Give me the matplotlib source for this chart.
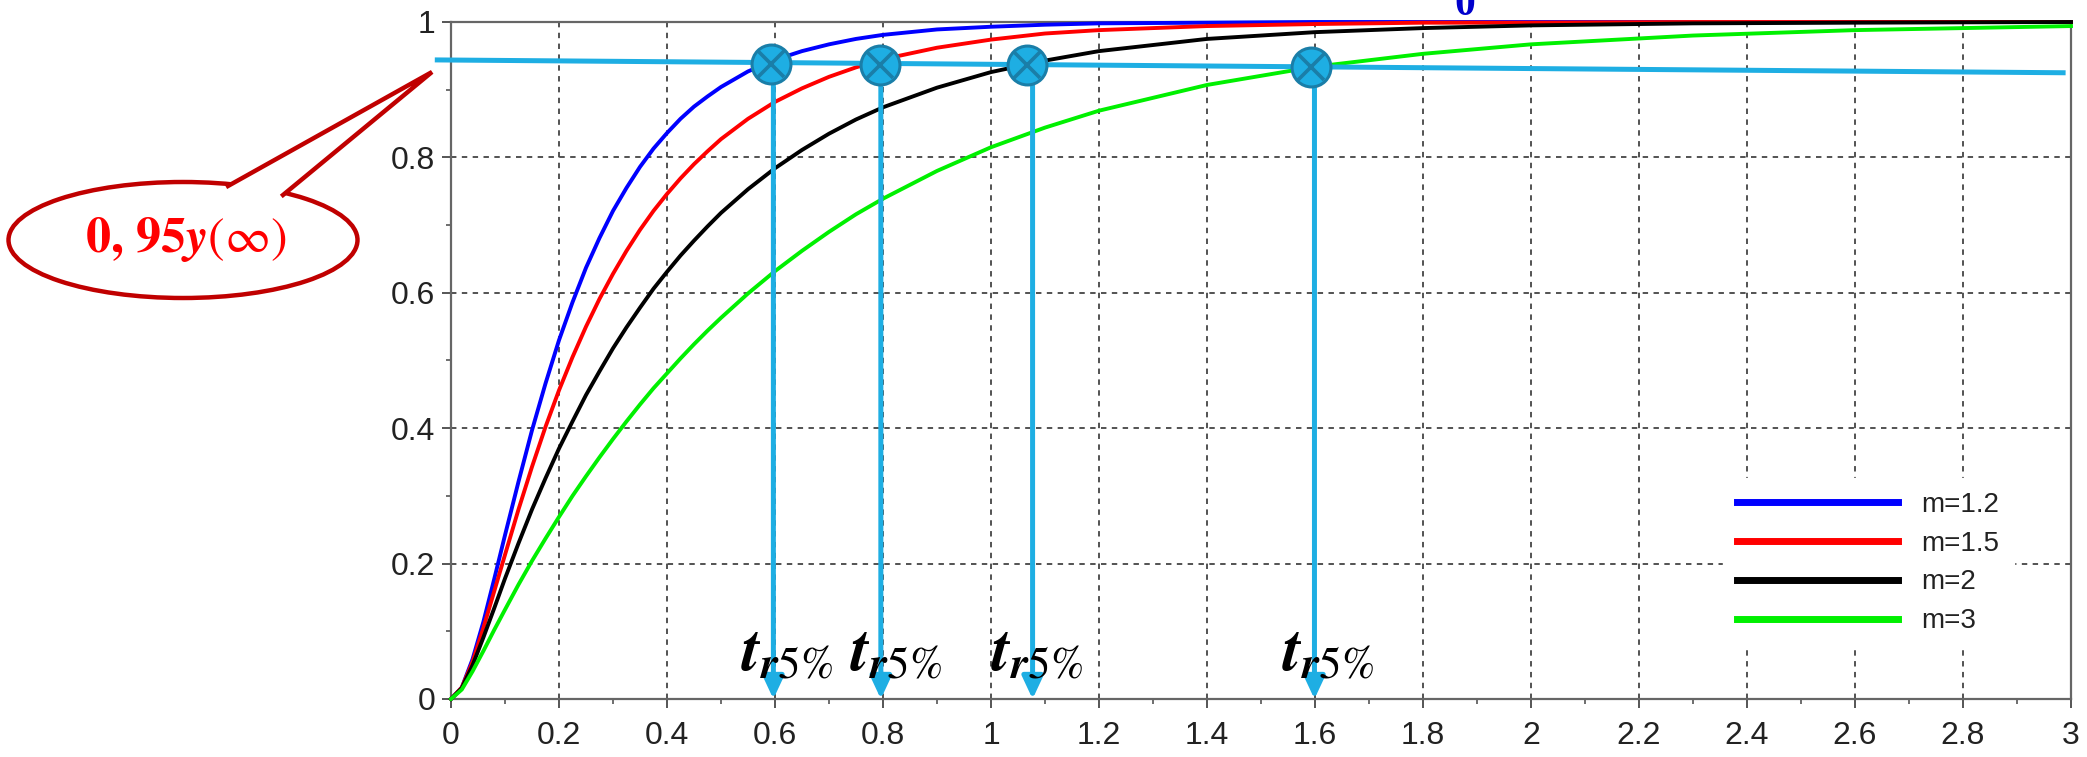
import matplotlib
matplotlib.use("Agg")
import matplotlib.pyplot as plt
from matplotlib.patches import Ellipse, Polygon
from matplotlib.ticker import MultipleLocator, FuncFormatter

plt.rcParams['mathtext.fontset'] = 'stix'

# ---------------- data ----------------
t = [0, 0.02, 0.04, 0.06, 0.08, 0.1, 0.125, 0.15, 0.175, 0.2, 0.225, 0.25, 0.275, 0.3,
     0.325, 0.35, 0.375, 0.4, 0.425, 0.45, 0.475, 0.5, 0.55, 0.6, 0.65, 0.7, 0.75, 0.8,
     0.9, 1.0, 1.1, 1.2, 1.4, 1.6, 1.8, 2.0, 2.3, 2.6, 3.0]
y_m12 = [0, 0.017, 0.059, 0.114, 0.177, 0.242, 0.321, 0.397, 0.466, 0.530, 0.586, 0.637,
         0.681, 0.721, 0.755, 0.786, 0.813, 0.836, 0.857, 0.875, 0.890, 0.904, 0.927,
         0.944, 0.957, 0.967, 0.975, 0.981, 0.989, 0.993, 0.996, 0.998, 0.999, 1.0,
         1.0, 1.0, 1.0, 1.0, 1.0]
y_m15 = [0, 0.017, 0.055, 0.105, 0.159, 0.213, 0.280, 0.343, 0.402, 0.456, 0.505, 0.550,
         0.591, 0.628, 0.662, 0.693, 0.721, 0.746, 0.769, 0.790, 0.809, 0.827, 0.857,
         0.882, 0.902, 0.919, 0.933, 0.945, 0.962, 0.974, 0.983, 0.988, 0.994, 0.997,
         0.999, 0.999, 1.0, 1.0, 1.0]
y_m2 = [0, 0.016, 0.050, 0.091, 0.134, 0.178, 0.230, 0.280, 0.326, 0.370, 0.410, 0.449,
        0.484, 0.518, 0.549, 0.578, 0.606, 0.631, 0.655, 0.677, 0.698, 0.718, 0.753,
        0.784, 0.811, 0.835, 0.856, 0.874, 0.903, 0.926, 0.943, 0.957, 0.975, 0.985,
        0.991, 0.995, 0.998, 0.999, 1.0]
y_m3 = [0, 0.014, 0.041, 0.071, 0.102, 0.132, 0.169, 0.204, 0.237, 0.269, 0.300, 0.329,
        0.357, 0.384, 0.410, 0.435, 0.459, 0.481, 0.503, 0.524, 0.544, 0.563, 0.599,
        0.632, 0.662, 0.690, 0.716, 0.739, 0.780, 0.815, 0.844, 0.869, 0.907, 0.934,
        0.953, 0.967, 0.980, 0.988, 0.994]
labels = ['m=1.2', 'm=1.5', 'm=2', 'm=3']
colors = ['#0000ff', '#ff0000', '#000000', '#00f000']

# 95 % level line (slightly slanted as drawn), crossing points and t_r5% arrows
level_x = [-0.030, 2.99]
level_y = [0.944, 0.925]
cross_x = [0.592, 0.794, 1.067, 1.592]
cross_y = [0.938, 0.937, 0.936, 0.934]
arrow_x = [0.597, 0.796, 1.077, 1.599]
tr_label_x = [0.537, 0.738, 1.000, 1.538]
tr_label = r'$\mathbfit{t}_{\mathbfit{r}\mathrm{5\%}}$'
callout_text = r'$\mathbf{0,\,95}\mathbfit{y}(\infty)$'

ANN = '#1eaee3'
ANN_DARK = '#1a7ea8'

# ---------------- figure ----------------
W, H = 2087, 757
fig = plt.figure(figsize=(W / 100, H / 100), dpi=100)
ax = fig.add_axes([451 / W, 1 - 699 / H, (2071 - 451) / W, (699 - 22) / H])

for ys, lab, c in zip([y_m12, y_m15, y_m2, y_m3], labels, colors):
    ax.plot(t, ys, color=c, lw=2.8, label=lab, clip_on=False, zorder=3,
            solid_joinstyle='round')

ax.set_xlim(0, 3)
ax.set_ylim(0, 1)
ax.xaxis.set_major_locator(MultipleLocator(0.2))
ax.xaxis.set_minor_locator(MultipleLocator(0.1))
ax.yaxis.set_major_locator(MultipleLocator(0.2))
ax.yaxis.set_minor_locator(MultipleLocator(0.1))
fmt = FuncFormatter(lambda v, p: ('%.1f' % v).rstrip('0').rstrip('.') if abs(v) > 1e-9 else '0')
ax.xaxis.set_major_formatter(fmt)
ax.yaxis.set_major_formatter(fmt)

ax.grid(True, which='major', color='#444444', linestyle=(0, (3, 3)), lw=1.3, zorder=1)
for s in ax.spines.values():
    s.set_color('#666666')
    s.set_linewidth(1.6)
ax.tick_params(which='major', direction='out', length=6.5, width=1.4, color='#555555',
               labelsize=23, labelcolor='#222222')
ax.tick_params(axis='x', which='major', pad=9)
ax.tick_params(axis='y', which='major', pad=5)
ax.tick_params(which='minor', direction='out', length=3.5, width=1.2, color='#555555')
for lab in ax.get_xticklabels() + ax.get_yticklabels():
    lab.set_family(['Liberation Sans', 'DejaVu Sans'])

# legend
leg = ax.legend(loc='upper left', bbox_to_anchor=(1723 / W, 1 - 478 / H),
                bbox_transform=fig.transFigure, borderaxespad=0, frameon=True,
                fancybox=False, facecolor='white', edgecolor='white', framealpha=1,
                handlelength=5.8, handletextpad=0.85, labelspacing=0.46, borderpad=0.5,
                prop={'family': ['Liberation Sans', 'DejaVu Sans'], 'size': 20})
for ln in leg.get_lines():
    ln.set_linewidth(5)
leg.set_zorder(4)
for txt in leg.get_texts():
    txt.set_color('#222222')

# 95 % level line
ax.plot(level_x, level_y, color=ANN, lw=3.6, clip_on=False, zorder=6, solid_capstyle='butt')

# vertical arrows
for xa, yc in zip(arrow_x, cross_y):
    ax.annotate('', xy=(xa, 0.0), xytext=(xa, yc),
                arrowprops=dict(arrowstyle='-|>,head_length=0.9,head_width=0.42',
                                color=ANN, lw=3.6, shrinkA=0, shrinkB=0,
                                mutation_scale=15),
                zorder=6, annotation_clip=False)

# crossing markers
ax.plot(cross_x, cross_y, ls='none', marker='o', ms=28, mfc=ANN, mec=ANN_DARK, mew=2.2,
        zorder=7, clip_on=False)
ax.plot(cross_x, cross_y, ls='none', marker='x', ms=19, mec=ANN_DARK, mew=2.6,
        zorder=8, clip_on=False)

# t_r5% labels
for xl in tr_label_x:
    ax.text(xl, 0.043, tr_label, fontsize=46, ha='left', va='baseline', color='black',
            zorder=9)

# ---------------- overlay (pixel coords) for the callout ----------------
ov = fig.add_axes([0, 0, 1, 1], zorder=10)
ov.set_xlim(0, W)
ov.set_ylim(H, 0)
ov.axis('off')
ov.patch.set_visible(False)

DR = '#c00000'
ell = Ellipse((183, 240), 349, 116, facecolor='white', edgecolor=DR, lw=3.2, zorder=1)
ov.add_patch(ell)
tip = (432, 72)
bl = (228, 186)
br = (283, 195)
cover = Polygon([tip, bl, (232, 200), (280, 205), br], closed=True, facecolor='white',
                edgecolor='none', zorder=2)
ov.add_patch(cover)
ov.plot([bl[0], tip[0], br[0]], [bl[1], tip[1], br[1]], color=DR, lw=3.2, zorder=3,
        solid_joinstyle='miter')
ov.text(186, 240, callout_text, fontsize=36, color='#ff0000', ha='center', va='center',
        zorder=4)

# partially visible text at the top edge
fig.text(1465 / W, 1 - 15 / H, '0', fontsize=30, color='#0000cc', ha='center',
         va='baseline', weight='bold', family=['Liberation Serif', 'DejaVu Serif'])

fig.savefig('out.png', dpi=100)
